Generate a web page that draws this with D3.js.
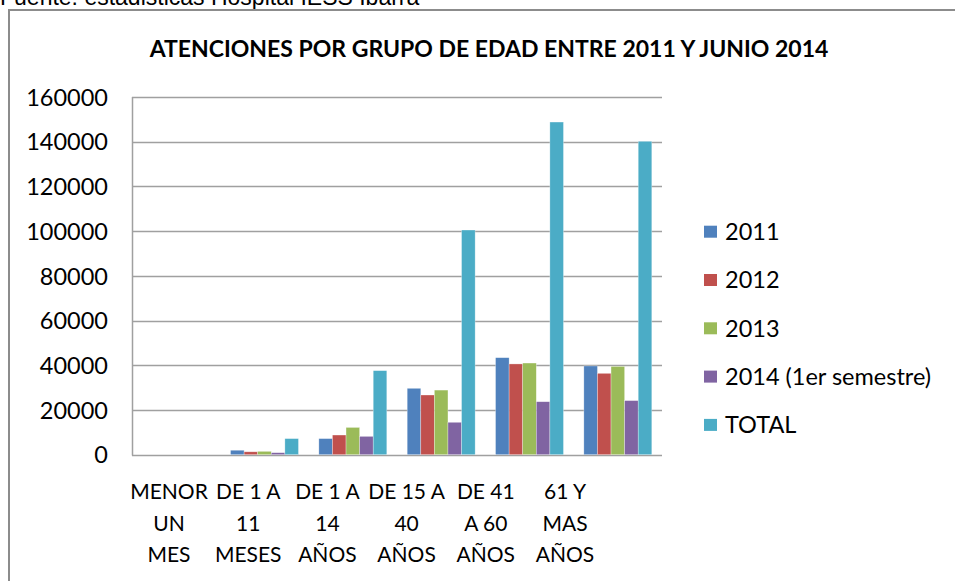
<!DOCTYPE html>
<html><head><meta charset="utf-8">
<script src="https://cdn.jsdelivr.net/npm/d3@7"></script>
<style>
html,body{margin:0;padding:0;background:#fff;overflow:hidden;}
svg{display:block;}
</style></head>
<body>
<svg id="chart" width="955" height="581"></svg>
<script>
const categories = [["MENOR","UN","MES"],["DE 1 A","11","MESES"],["DE 1 A","14","AÑOS"],["DE 15 A","40","AÑOS"],["DE 41","A 60","AÑOS"],["61 Y","MAS","AÑOS"]];
const seriesNames = ["2011","2012","2013","2014 (1er semestre)","TOTAL"];
const v2011 = [0, 2000, 7200, 29700, 43400, 39700];
const v2012 = [0, 1300, 8800, 26700, 40600, 36400];
const v2013 = [0, 1500, 12200, 28900, 41000, 39500];
const v2014 = [0, 900, 8200, 14500, 23700, 24200];
const vTotal = [0, 7200, 37600, 100500, 148800, 140200];
const yTicks = [0,20000,40000,60000,80000,100000,120000,140000,160000];
const title = "ATENCIONES POR GRUPO DE EDAD ENTRE 2011 Y JUNIO 2014";
const source = "Fuente: estadisticas Hospital IESS Ibarra";

const seriesValues = [v2011, v2012, v2013, v2014, vTotal];
const colors = ["#4F81BD","#C0504D","#9BBB59","#8064A2","#4BACC6"];
const catKeys = categories.map((c,i)=>"c"+i);

const svg = d3.select("#chart");
const font = "Lato, 'Open Sans', sans-serif";

// source text (cut off at top)
svg.append("text").attr("x",0).attr("y",5).attr("font-family","'Liberation Sans', Arial, sans-serif")
  .attr("font-size",23).attr("fill","#000").text(source);

// outer border
svg.append("rect").attr("x",9).attr("y",10).attr("width",960).attr("height",600)
  .attr("fill","none").attr("stroke","#8c8c8c").attr("stroke-width",2);

// title
svg.append("text").attr("x",489).attr("y",57).attr("text-anchor","middle")
  .attr("font-family",font).attr("font-weight","bold").attr("font-size",23).attr("fill","#000").text(title);

const x0 = d3.scaleBand().domain(catKeys).range([132,662]).paddingInner(1.5/6.5).paddingOuter(0.75/6.5);
const x1 = d3.scaleBand().domain(seriesNames).range([0,x0.bandwidth()]);
const y = d3.scaleLinear().domain([0,160000]).range([454.7,97]);
const xl = d3.scalePoint().domain(catKeys).range([169,565]);

// gridlines
svg.append("g").selectAll("line").data(yTicks).join("line")
  .attr("x1",132).attr("x2",662).attr("y1",d=>Math.round(y(d))+0.5).attr("y2",d=>Math.round(y(d))+0.5)
  .attr("stroke","#a0a0a0").attr("stroke-width",1.3);
// y axis line
svg.append("line").attr("x1",132.5).attr("x2",132.5).attr("y1",97).attr("y2",455.5)
  .attr("stroke","#a0a0a0").attr("stroke-width",1.5);

// y labels
const yAxis = d3.axisLeft(y).tickValues(yTicks).tickFormat(d3.format("d")).tickSize(0).tickPadding(0);
const ga = svg.append("g").attr("transform","translate(108,0)").call(yAxis);
ga.select(".domain").remove();
ga.selectAll("text").attr("font-family",font).attr("font-size",23.5).attr("fill","#000").attr("dy","0.35em");

// bars
const groups = svg.append("g").selectAll("g").data(catKeys).join("g")
  .attr("transform",d=>`translate(${x0(d)},0)`);
groups.selectAll("rect").data((d,i)=>seriesNames.map((s,j)=>({s,j,v:seriesValues[j][i]}))).join("rect")
  .attr("x",d=>x1(d.s)).attr("width",x1.bandwidth())
  .attr("y",d=>y(d.v)).attr("height",d=>y(0)-y(d.v))
  .attr("fill",d=>colors[d.j]).attr("stroke","rgba(255,255,255,0.5)").attr("stroke-width",0.6);

// x labels
const xg = svg.append("g");
catKeys.forEach((k,i)=>{
  const t = xg.append("text").attr("x",xl(k)).attr("text-anchor","middle")
    .attr("font-family",font).attr("font-size",21).attr("fill","#000");
  categories[i].forEach((line,li)=>{
    t.append("tspan").attr("x",xl(k)).attr("y",491.7+li*31.7).attr("dy","0.35em").text(line);
  });
});

// legend
const lg = svg.append("g").selectAll("g").data(seriesNames).join("g")
  .attr("transform",(d,i)=>`translate(704,${231.7+i*48.3})`);
lg.append("rect").attr("x",0).attr("y",-6).attr("width",13).attr("height",12).attr("fill",(d,i)=>colors[i]);
lg.append("text").attr("x",21).attr("y",0).attr("dy","0.35em").attr("font-family",font)
  .attr("font-size",23.5).attr("fill","#000").text(d=>d);
</script>
</body></html>
